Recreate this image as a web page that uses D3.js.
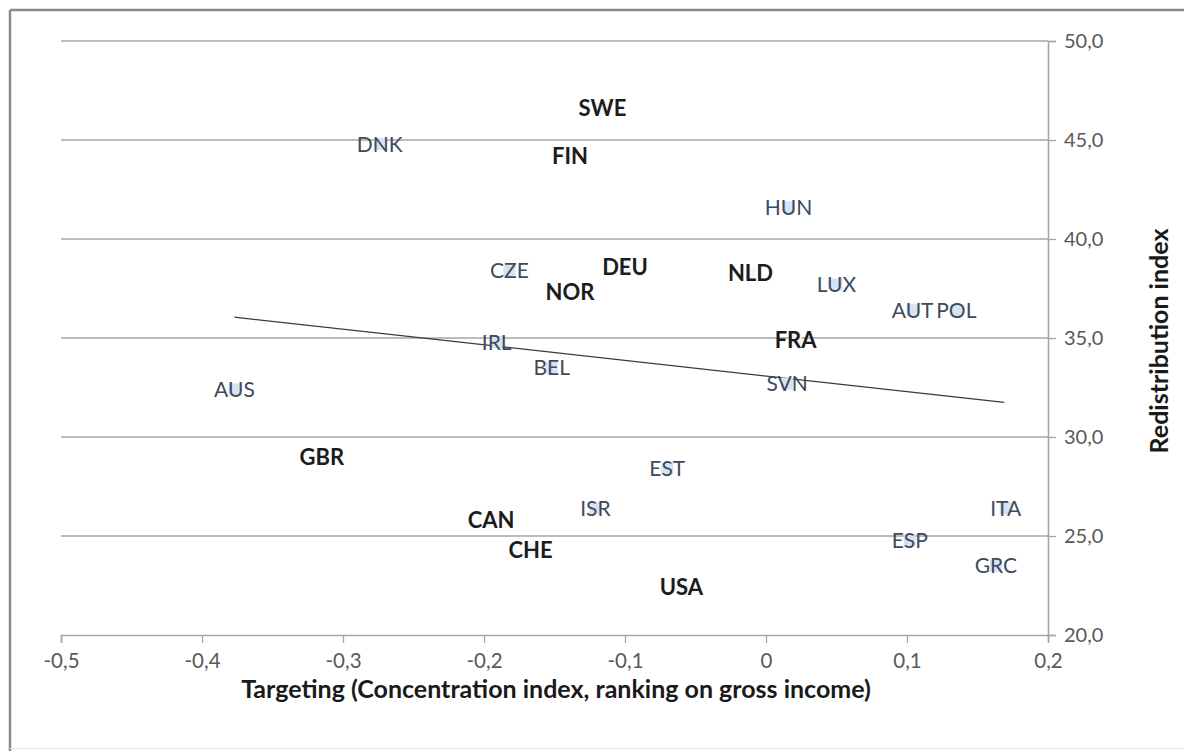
<!DOCTYPE html>
<html>
<head>
<meta charset="utf-8">
<script src="https://cdn.jsdelivr.net/npm/d3@7/dist/d3.min.js"></script>
<style>
  html, body { margin: 0; padding: 0; background: #fff; }
  svg { display: block; }
</style>
</head>
<body>
<svg id="chart" width="1184" height="751"></svg>
<script>
// ---- data ----
const countries = ["SWE","DNK","FIN","HUN","CZE","DEU","NLD","NOR","LUX","AUT","POL","IRL","FRA","BEL","SVN","AUS","GBR","EST","ISR","ITA","CAN","CHE","ESP","GRC","USA"];
const targeting = [-0.116,-0.274,-0.139,0.016,-0.182,-0.100,-0.011,-0.139,0.050,0.104,0.135,-0.191,0.021,-0.152,0.015,-0.377,-0.315,-0.070,-0.121,0.170,-0.195,-0.167,0.102,0.163,-0.060];
const redistribution = [46.6,44.8,44.2,41.6,38.4,38.6,38.3,37.3,37.7,36.4,36.4,34.8,34.9,33.5,32.7,32.4,29.0,28.4,26.4,26.4,25.8,24.3,24.8,23.5,22.4];
const boldGroup = ["SWE","FIN","DEU","NOR","NLD","FRA","GBR","CAN","CHE","USA"];
const trendX = [-0.377, 0.169];
const trendY = [36.05, 31.75];
const xTicks = [-0.5,-0.4,-0.3,-0.2,-0.1,0,0.1,0.2];
const yTicks = [20,25,30,35,40,45,50];
const xTitle = "Targeting (Concentration index, ranking on gross income)";
const yTitle = "Redistribution index";

const svg = d3.select("#chart");
const FONT = "Lato, 'Open Sans', sans-serif";

// frame (screenshot border)
svg.append("line").attr("x1",10).attr("x2",1184).attr("y1",10).attr("y2",10)
  .attr("stroke","#8a8a8a").attr("stroke-width",2.5);
svg.append("line").attr("x1",10).attr("x2",10).attr("y1",10).attr("y2",751)
  .attr("stroke","#8a8a8a").attr("stroke-width",2.5);
svg.append("line").attr("x1",10).attr("x2",1184).attr("y1",748.5).attr("y2",748.5)
  .attr("stroke","#e6e6e6").attr("stroke-width",1);

const x = d3.scaleLinear().domain([-0.5, 0.2]).range([61, 1048]);
const y = d3.scaleLinear().domain([20, 50]).range([635, 41]);

const fmt = d => d3.format(".1f")(d).replace(".", ",");
const fmtX = d => d === 0 ? "0" : d3.format(".1f")(d).replace(".", ",").replace("−","-");

// gridlines
svg.append("g").selectAll("line").data(yTicks.filter(t => t !== 20)).join("line")
  .attr("x1", x(-0.5)).attr("x2", x(0.2))
  .attr("y1", d => y(d)).attr("y2", d => y(d))
  .attr("stroke", "#a6a6a6").attr("stroke-width", 1.6);

// x axis
const xAxis = svg.append("g").attr("transform", `translate(0,${y(20)})`)
  .call(d3.axisBottom(x).tickValues(xTicks).tickFormat(fmtX).tickSize(8).tickPadding(10));
xAxis.select(".domain").attr("stroke", "#a6a6a6").attr("stroke-width", 1.6);
xAxis.selectAll(".tick line").attr("stroke", "#a6a6a6").attr("stroke-width", 1.3);
xAxis.selectAll(".tick text").attr("fill", "#595959").attr("font-family", FONT).attr("font-size", 20.5);

// y axis (right side at x=0.2)
const yAxis = svg.append("g").attr("transform", `translate(${x(0.2)},0)`)
  .call(d3.axisRight(y).tickValues(yTicks).tickFormat(fmt).tickSize(8).tickPadding(8));
yAxis.select(".domain").attr("stroke", "#a6a6a6").attr("stroke-width", 1.6);
yAxis.selectAll(".tick line").attr("stroke", "#a6a6a6").attr("stroke-width", 1.3);
yAxis.selectAll(".tick text").attr("fill", "#595959").attr("font-family", FONT).attr("font-size", 20);

// axis titles
svg.append("text").attr("x", 556).attr("y", 698).attr("text-anchor", "middle")
  .attr("font-family", FONT).attr("font-weight", "bold").attr("font-size", 25)
  .attr("fill", "#1a1a1a").text(xTitle);
svg.append("text").attr("transform", "translate(1168,341) rotate(-90)").attr("text-anchor", "middle")
  .attr("font-family", FONT).attr("font-weight", "bold").attr("font-size", 25)
  .attr("fill", "#1a1a1a").text(yTitle);

// data
const data = countries.map((c, i) => ({ c, tx: targeting[i], r: redistribution[i], bold: boldGroup.includes(c) }));

// trend line
svg.append("line")
  .attr("x1", x(trendX[0])).attr("y1", y(trendY[0]))
  .attr("x2", x(trendX[1])).attr("y2", y(trendY[1]))
  .attr("stroke", "#3a3a3a").attr("stroke-width", 1.2);

// markers (faint light-blue squares behind labels)
svg.append("g").selectAll("rect").data(data).join("rect")
  .attr("x", d => x(d.tx) - 6).attr("y", d => y(d.r) - 6)
  .attr("width", 12).attr("height", 12)
  .attr("fill", d => d.bold ? "#f3f6fb" : "#d6e3f3");

// labels
svg.append("g").selectAll("text").data(data).join("text")
  .attr("x", d => x(d.tx)).attr("y", d => y(d.r))
  .attr("dy", "0.36em").attr("text-anchor", "middle")
  .attr("font-family", FONT)
  .attr("font-size", d => d.bold ? 22 : 21)
  .attr("font-weight", d => d.bold ? "bold" : "normal")
  .attr("fill", d => d.bold ? "#1c1c1c" : "#3e4a5c")
  .text(d => d.c);
</script>
</body>
</html>
